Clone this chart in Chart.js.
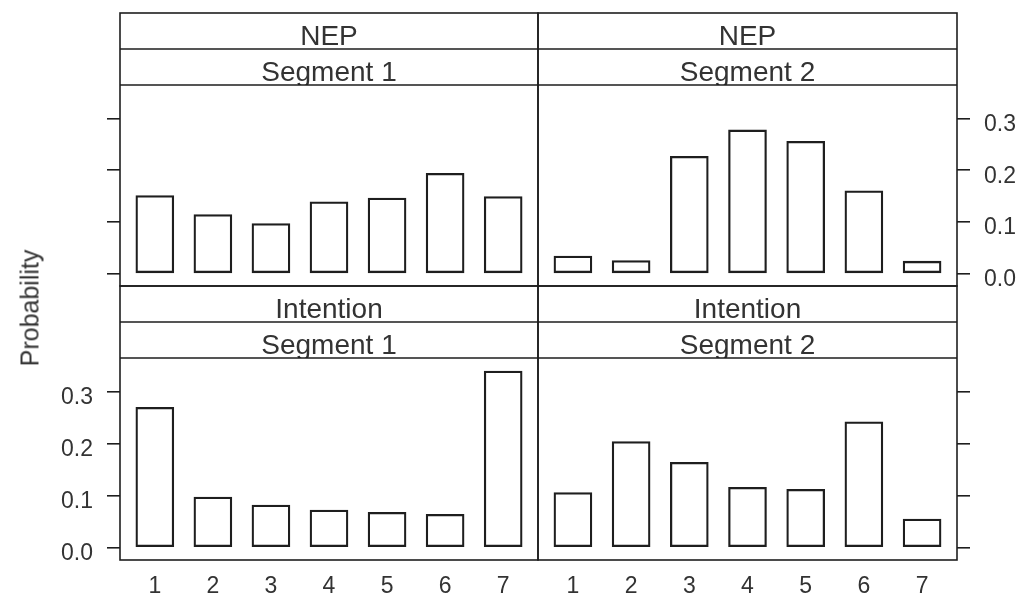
<!DOCTYPE html>
<html>
<head>
<meta charset="utf-8">
<script src="https://cdn.jsdelivr.net/npm/chart.js@4/dist/chart.umd.min.js"></script>
<style>
  html, body { margin: 0; padding: 0; background: #ffffff; }
  #wrap { position: relative; width: 1022px; height: 598px; overflow: hidden; background: #ffffff; }
  canvas { position: absolute; }
  #ylab {
    position: absolute; left: 30px; top: 308px;
    transform: translate(-50%, -50%) rotate(-90deg);
    font-family: "Liberation Sans", Arial, sans-serif; font-size: 25px; color: #333;
    white-space: nowrap;
  }
</style>
</head>
<body>
<div id="wrap">
  <canvas id="tl"></canvas>
  <canvas id="tr"></canvas>
  <canvas id="bl"></canvas>
  <canvas id="br"></canvas>
  <div id="ylab">Probability</div>
</div>
<script>
// Response categories (1..7) and their axis labels
const categories = [1, 2, 3, 4, 5, 6, 7];
const tickLabels = ['1', '2', '3', '4', '5', '6', '7'];
const yTicks = [0, 0.1, 0.2, 0.3];

// Strip labels
const rowLabels = ['NEP', 'Intention'];
const colLabels = ['Segment 1', 'Segment 2'];

// Probability per category
const nepSeg1 = [0.151, 0.114, 0.097, 0.139, 0.146, 0.194, 0.149];
const nepSeg2 = [0.034, 0.025, 0.227, 0.278, 0.256, 0.160, 0.024];
const intSeg1 = [0.270, 0.097, 0.082, 0.072, 0.068, 0.064, 0.340];
const intSeg2 = [0.106, 0.204, 0.164, 0.116, 0.112, 0.242, 0.055];

const FONT = '"Liberation Sans", Arial, sans-serif';
const LINE = '#1e1e1e';
const TEXT = '#333333';
const Y_MIN = -0.024, Y_MAX = 0.365;
const X_MIN = 0.4, X_MAX = 7.6;
const STRIP_H = 36;

// Frame + two strips (variable name on top, segment below) around each panel
const stripPlugin = {
  id: 'strips',
  afterDraw(chart, args, opts) {
    const { ctx, chartArea: a } = chart;
    ctx.save();
    const boxes = [
      { top: a.top - 2 * STRIP_H, text: opts.outer },
      { top: a.top - STRIP_H, text: opts.inner }
    ];
    boxes.forEach(b => {
      ctx.save();
      ctx.beginPath();
      ctx.rect(a.left, b.top, a.right - a.left, STRIP_H);
      ctx.clip();
      ctx.fillStyle = TEXT;
      ctx.font = '28px ' + FONT;
      ctx.textAlign = 'center';
      ctx.textBaseline = 'alphabetic';
      ctx.fillText(b.text, (a.left + a.right) / 2, b.top + STRIP_H - 4);
      ctx.restore();
    });
    ctx.strokeStyle = LINE;
    ctx.lineWidth = 1.6;
    ctx.strokeRect(a.left, a.top - 2 * STRIP_H, a.right - a.left, a.bottom - a.top + 2 * STRIP_H);
    ctx.beginPath();
    ctx.moveTo(a.left, a.top - STRIP_H); ctx.lineTo(a.right, a.top - STRIP_H);
    ctx.moveTo(a.left, a.top); ctx.lineTo(a.right, a.top);
    ctx.stroke();
    ctx.restore();
  }
};

function makePanel(id, pos, values, outer, inner) {
  const canvas = document.getElementById(id);
  const isLeft = pos.col === 0;
  const isBottom = pos.row === 1;
  const showYLabels = (isLeft && isBottom) || (!isLeft && !isBottom);

  canvas.width = pos.w; canvas.height = pos.h;
  canvas.style.left = pos.x + 'px'; canvas.style.top = pos.y + 'px';
  canvas.style.width = pos.w + 'px'; canvas.style.height = pos.h + 'px';

  return new Chart(canvas, {
    type: 'bar',
    data: {
      datasets: [{
        data: categories.map((c, i) => ({ x: c, y: values[i] })),
        backgroundColor: 'rgba(255,255,255,0)',
        borderColor: LINE,
        borderWidth: 1.6,
        borderSkipped: false,
        barThickness: 38
      }]
    },
    options: {
      responsive: false,
      animation: false,
      devicePixelRatio: 1,
      layout: { padding: pos.pad },
      plugins: {
        legend: { display: false },
        tooltip: { enabled: false },
        strips: { outer: outer, inner: inner }
      },
      scales: {
        x: {
          type: 'linear',
          offset: false,
          min: X_MIN, max: X_MAX,
          display: isBottom,
          afterBuildTicks: s => { s.ticks = categories.map(v => ({ value: v })); },
          afterFit: s => { if (isBottom) s.height = 38; },
          grid: { display: false, drawTicks: false, offset: false },
          border: { display: false },
          ticks: {
            color: TEXT, font: { family: FONT, size: 23 }, padding: 13,
            maxRotation: 0, autoSkip: false,
            callback: v => tickLabels[categories.indexOf(v)]
          }
        },
        y: {
          type: 'linear',
          position: isLeft ? 'left' : 'right',
          min: Y_MIN, max: Y_MAX,
          afterBuildTicks: s => { s.ticks = yTicks.map(v => ({ value: v })); },
          afterFit: s => { s.width = isLeft ? 120 : 65; },
          grid: { drawOnChartArea: false, drawTicks: true, tickLength: 13, color: LINE, lineWidth: 1.6 },
          border: { display: false },
          ticks: {
            color: showYLabels ? TEXT : 'rgba(0,0,0,0)',
            font: { family: FONT, size: 23 }, padding: 14, labelOffset: 6,
            callback: v => v.toFixed(1)
          }
        }
      }
    },
    plugins: [stripPlugin]
  });
}

makePanel('tl', { row: 0, col: 0, x: 0, y: 0, w: 540, h: 318,
  pad: { top: 85, left: 0, right: 2, bottom: 32 } }, nepSeg1, rowLabels[0], colLabels[0]);
makePanel('tr', { row: 0, col: 1, x: 536, y: 0, w: 486, h: 318,
  pad: { top: 85, left: 2, right: 0, bottom: 32 } }, nepSeg2, rowLabels[0], colLabels[1]);
makePanel('bl', { row: 1, col: 0, x: 0, y: 280, w: 540, h: 318,
  pad: { top: 78, left: 0, right: 2, bottom: 0 } }, intSeg1, rowLabels[1], colLabels[0]);
makePanel('br', { row: 1, col: 1, x: 536, y: 280, w: 486, h: 318,
  pad: { top: 78, left: 2, right: 0, bottom: 0 } }, intSeg2, rowLabels[1], colLabels[1]);
</script>
</body>
</html>
